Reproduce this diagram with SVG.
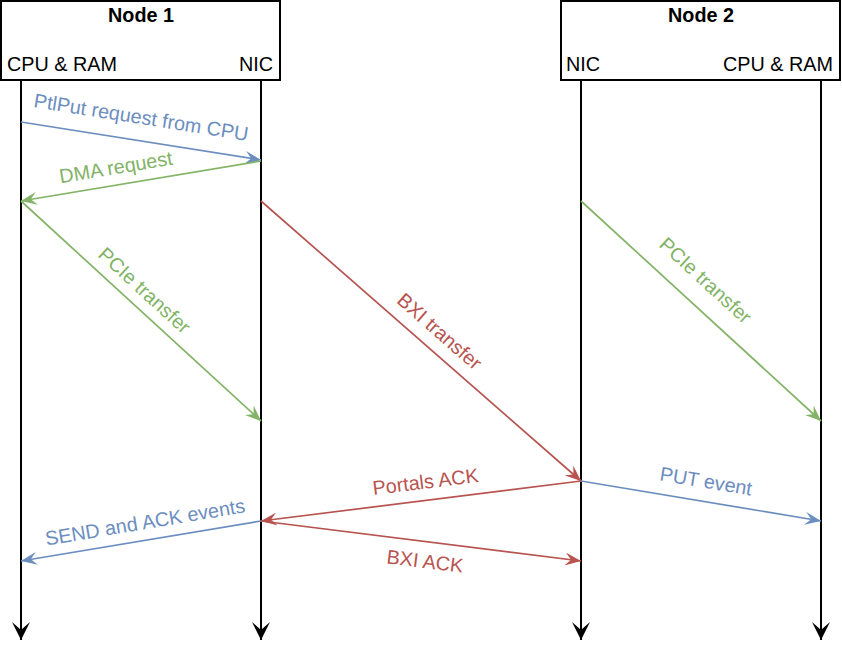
<svg xmlns="http://www.w3.org/2000/svg" width="842" height="660" viewBox="0 0 842 660">
<style>
text{font-family:"Liberation Sans",Arial,sans-serif;font-size:19.8px}
.title{font-weight:bold;text-anchor:middle}
.box{fill:#fff;stroke:#000;stroke-width:2}
.life{stroke:#000;stroke-width:2;fill:none}
.msg{fill:none;stroke-width:1.7}
.blue{stroke:#6c8ebf}
.green{stroke:#82b366}
.red{stroke:#b85450}
.lbl{text-anchor:middle}
.tb{fill:#6c8ebf}
.tg{fill:#82b366}
.tr{fill:#b85450}
</style>
<defs>
<marker id="mk" markerUnits="userSpaceOnUse" markerWidth="18" markerHeight="18" viewBox="0 0 18 18" refX="18" refY="9" orient="auto"><path d="M0,0 L18,9 L0,18 L8,9 Z" fill="#000"/></marker>
<marker id="mb" markerUnits="userSpaceOnUse" markerWidth="16" markerHeight="13" viewBox="0 0 16 13" refX="16" refY="6.5" orient="auto"><path d="M0,0 L16,6.5 L0,13 L6,6.5 Z" fill="#6c8ebf"/></marker>
<marker id="mg" markerUnits="userSpaceOnUse" markerWidth="16" markerHeight="13" viewBox="0 0 16 13" refX="16" refY="6.5" orient="auto"><path d="M0,0 L16,6.5 L0,13 L6,6.5 Z" fill="#82b366"/></marker>
<marker id="mr" markerUnits="userSpaceOnUse" markerWidth="16" markerHeight="13" viewBox="0 0 16 13" refX="16" refY="6.5" orient="auto"><path d="M0,0 L16,6.5 L0,13 L6,6.5 Z" fill="#b85450"/></marker>
</defs>
<rect width="842" height="660" fill="#fff"/>
<g id="node1">
<rect class="box" x="1" y="1" width="279" height="79"/>
<text class="title" x="141" y="22">Node 1</text>
<text x="7" y="71">CPU &amp; RAM</text>
<text x="273" y="71" text-anchor="end">NIC</text>
</g>
<g id="node2">
<rect class="box" x="561" y="1" width="279" height="79"/>
<text class="title" x="701" y="22">Node 2</text>
<text x="566" y="71">NIC</text>
<text x="833" y="71" text-anchor="end">CPU &amp; RAM</text>
</g>
<g id="connectors">
<line class="life" x1="21" y1="81" x2="21" y2="640" marker-end="url(#mk)"/>
<line class="life" x1="261" y1="81" x2="261" y2="640" marker-end="url(#mk)"/>
<line class="life" x1="581" y1="81" x2="581" y2="640" marker-end="url(#mk)"/>
<line class="life" x1="821" y1="81" x2="821" y2="640" marker-end="url(#mk)"/>
<line class="msg blue" x1="21" y1="122" x2="261" y2="160" marker-end="url(#mb)"/>
<line class="msg green" x1="261" y1="161" x2="21" y2="201" marker-end="url(#mg)"/>
<line class="msg green" x1="21" y1="201" x2="261" y2="421" marker-end="url(#mg)"/>
<line class="msg red" x1="261" y1="201" x2="581" y2="481" marker-end="url(#mr)"/>
<line class="msg green" x1="581" y1="201" x2="821" y2="421" marker-end="url(#mg)"/>
<line class="msg red" x1="581" y1="481" x2="261" y2="521" marker-end="url(#mr)"/>
<line class="msg blue" x1="581" y1="481" x2="821" y2="521" marker-end="url(#mb)"/>
<line class="msg blue" x1="261" y1="521" x2="21" y2="561" marker-end="url(#mb)"/>
<line class="msg red" x1="261" y1="521" x2="581" y2="561" marker-end="url(#mr)"/>
</g>
<g id="labels">
<text class="lbl tb" transform="translate(141,118) rotate(9)" y="6">PtlPut request from CPU</text>
<text class="lbl tg" transform="translate(116,168) rotate(-9.5)" y="6">DMA request</text>
<text class="lbl tg" transform="translate(144,291) rotate(42.5)" y="6">PCIe transfer</text>
<text class="lbl tr" transform="translate(439,332) rotate(41.2)" y="6">BXI transfer</text>
<text class="lbl tg" transform="translate(705,281) rotate(42.5)" y="6">PCIe transfer</text>
<text class="lbl tr" transform="translate(425.5,481.5) rotate(-7.1)" y="7">Portals ACK</text>
<text class="lbl tb" transform="translate(706,481) rotate(9.5)" y="7">PUT event</text>
<text class="lbl tb" transform="translate(145,522) rotate(-9.5)" y="7">SEND and ACK events</text>
<text class="lbl tr" transform="translate(425,561) rotate(7.1)" y="7">BXI ACK</text>
</g>
</svg>
